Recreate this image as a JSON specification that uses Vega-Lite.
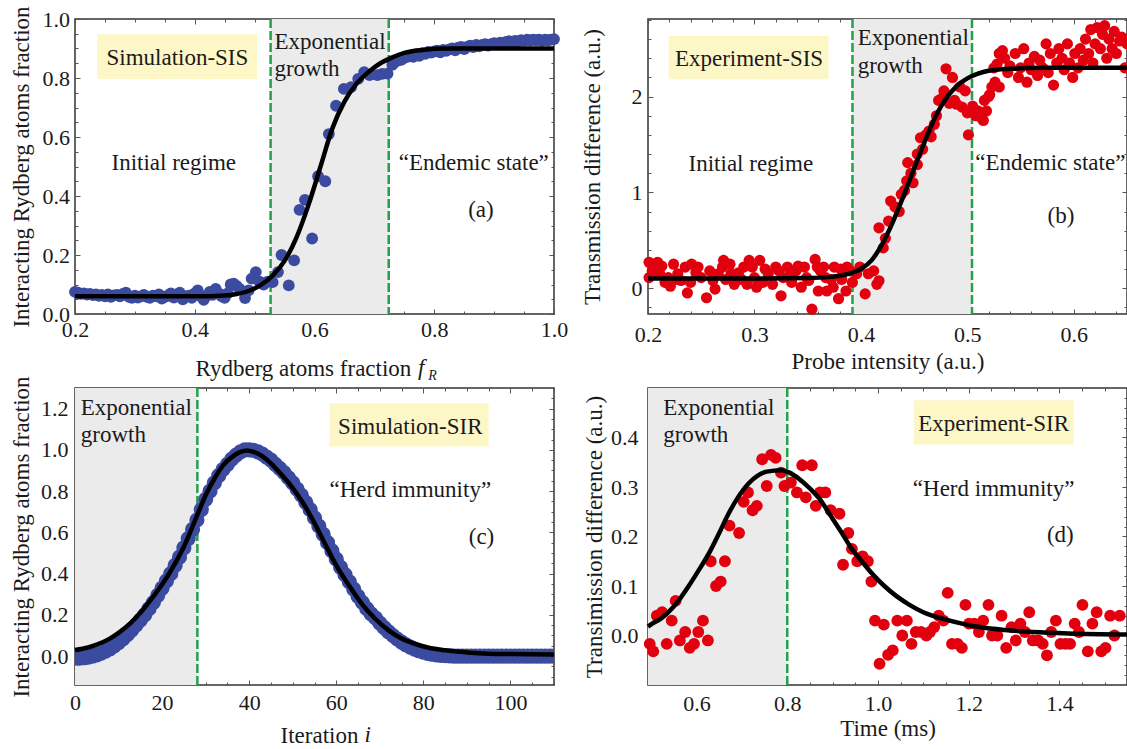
{
"$schema": "https://vega.github.io/schema/vega-lite/v6.json",
"padding": {"left": 9, "top": 5, "right": 0, "bottom": 0},
"background": "white",
"bounds": "flush",
"columns": 2,
"spacing": {"row": 74, "column": 94},
"config": {
  "view": {"stroke": "#333333", "strokeWidth": 1.5},
  "axis": {"domain": false, "grid": false, "tickColor": "#555555", "tickWidth": 1, "labelFont": "Liberation Serif", "labelFontSize": 22, "labelColor": "#1a1a1a", "titleFont": "Liberation Serif", "titleFontSize": 23, "titleFontWeight": "normal", "titleColor": "#1a1a1a", "labelFlush": false, "labelOverlap": false},
  "text": {"font": "Liberation Serif", "fontSize": 23, "color": "#1a1a1a"}
},
"concat": [
{
  "width": 479, "height": 295,
  "resolve": {"axis": {"x": "independent", "y": "independent"}},
  "layer": [
    {"data": {"values": [{"a": 0.5267, "b": 0.724}]}, "mark": {"type": "rect", "color": "#ebebeb"},
     "encoding": {"x": {"field": "a", "type": "quantitative", "scale": {"domain": [0.2, 1.0], "nice": false, "zero": false}, "axis": null}, "x2": {"field": "b"}}},
    {"data": {"values": [{"x": 0.5267}, {"x": 0.724}]}, "mark": {"type": "rule", "color": "#22a04b", "strokeWidth": 2.5, "strokeDash": [9, 3]},
     "encoding": {"x": {"field": "x", "type": "quantitative", "scale": {"domain": [0.2, 1.0], "nice": false, "zero": false}, "axis": null}}},
    {"data": {"values": [
      {"x":0.2,"y":0.075},{"x":0.205,"y":0.072},{"x":0.21,"y":0.068},{"x":0.215,"y":0.07},{"x":0.22,"y":0.066},{"x":0.225,"y":0.068},{"x":0.23,"y":0.064},{"x":0.235,"y":0.066},{"x":0.24,"y":0.062},{"x":0.245,"y":0.065},{"x":0.25,"y":0.06},{"x":0.255,"y":0.066},{"x":0.26,"y":0.058},{"x":0.265,"y":0.063},{"x":0.27,"y":0.065},{"x":0.275,"y":0.06},{"x":0.28,"y":0.068},{"x":0.285,"y":0.072},{"x":0.29,"y":0.058},{"x":0.295,"y":0.055},{"x":0.3,"y":0.062},{"x":0.305,"y":0.056},{"x":0.31,"y":0.06},{"x":0.315,"y":0.065},{"x":0.32,"y":0.058},{"x":0.325,"y":0.055},{"x":0.33,"y":0.062},{"x":0.335,"y":0.06},{"x":0.34,"y":0.066},{"x":0.345,"y":0.052},{"x":0.35,"y":0.058},{"x":0.355,"y":0.062},{"x":0.36,"y":0.07},{"x":0.365,"y":0.056},{"x":0.37,"y":0.066},{"x":0.375,"y":0.072},{"x":0.38,"y":0.05},{"x":0.385,"y":0.06},{"x":0.39,"y":0.062},{"x":0.395,"y":0.055},{"x":0.4,"y":0.07},{"x":0.405,"y":0.08},{"x":0.41,"y":0.06},{"x":0.415,"y":0.048},{"x":0.42,"y":0.062},{"x":0.425,"y":0.075},{"x":0.43,"y":0.065},{"x":0.435,"y":0.085},{"x":0.44,"y":0.07},{"x":0.445,"y":0.06},{"x":0.45,"y":0.055},{"x":0.455,"y":0.07},{"x":0.46,"y":0.1},{"x":0.465,"y":0.103},{"x":0.47,"y":0.095},{"x":0.475,"y":0.085},{"x":0.484,"y":0.054},{"x":0.49,"y":0.08},{"x":0.495,"y":0.12},{"x":0.502,"y":0.142},{"x":0.508,"y":0.11},{"x":0.515,"y":0.1},{"x":0.522,"y":0.11},{"x":0.53,"y":0.108},{"x":0.539,"y":0.142},{"x":0.545,"y":0.2},{"x":0.557,"y":0.097},{"x":0.566,"y":0.182},{"x":0.575,"y":0.353},{"x":0.584,"y":0.387},{"x":0.596,"y":0.256},{"x":0.606,"y":0.467},{"x":0.618,"y":0.45},{"x":0.624,"y":0.61},{"x":0.636,"y":0.706},{"x":0.649,"y":0.763},{"x":0.661,"y":0.769},{"x":0.673,"y":0.797},{"x":0.683,"y":0.82},{"x":0.692,"y":0.81},{"x":0.705,"y":0.81},{"x":0.713,"y":0.814},{"x":0.722,"y":0.815},{"x":0.73,"y":0.845},{"x":0.735,"y":0.855},{"x":0.74,"y":0.86},{"x":0.745,"y":0.862},{"x":0.75,"y":0.868},{"x":0.755,"y":0.872},{"x":0.76,"y":0.876},{"x":0.765,"y":0.872},{"x":0.77,"y":0.88},{"x":0.775,"y":0.875},{"x":0.78,"y":0.884},{"x":0.785,"y":0.882},{"x":0.79,"y":0.888},{"x":0.795,"y":0.886},{"x":0.8,"y":0.89},{"x":0.805,"y":0.893},{"x":0.81,"y":0.887},{"x":0.815,"y":0.895},{"x":0.82,"y":0.892},{"x":0.825,"y":0.897},{"x":0.83,"y":0.9},{"x":0.835,"y":0.894},{"x":0.84,"y":0.903},{"x":0.845,"y":0.905},{"x":0.85,"y":0.898},{"x":0.855,"y":0.905},{"x":0.86,"y":0.91},{"x":0.865,"y":0.905},{"x":0.87,"y":0.912},{"x":0.875,"y":0.907},{"x":0.88,"y":0.912},{"x":0.885,"y":0.915},{"x":0.89,"y":0.91},{"x":0.895,"y":0.915},{"x":0.9,"y":0.918},{"x":0.905,"y":0.914},{"x":0.91,"y":0.92},{"x":0.915,"y":0.917},{"x":0.92,"y":0.922},{"x":0.925,"y":0.925},{"x":0.93,"y":0.92},{"x":0.935,"y":0.926},{"x":0.94,"y":0.924},{"x":0.945,"y":0.928},{"x":0.95,"y":0.926},{"x":0.955,"y":0.93},{"x":0.96,"y":0.927},{"x":0.965,"y":0.93},{"x":0.97,"y":0.928},{"x":0.975,"y":0.93},{"x":0.98,"y":0.926},{"x":0.985,"y":0.93},{"x":0.99,"y":0.928},{"x":0.995,"y":0.93},{"x":1.0,"y":0.932}
    ]}, "mark": {"type": "circle", "color": "#3b4ba0", "opacity": 1, "size": 140},
     "encoding": {
       "x": {"field": "x", "type": "quantitative", "scale": {"domain": [0.2, 1.0], "nice": false, "zero": false},
             "axis": {"orient": "bottom", "values": [0.2, 0.4, 0.6, 0.8, 1.0], "format": ".1f", "tickSize": -5, "labelPadding": 10, "title": "Rydberg atoms fraction", "titleAlign": "left", "titleX": 120, "titleY": 61, "titleBaseline": "alphabetic"}},
       "y": {"field": "y", "type": "quantitative", "scale": {"domain": [0, 1], "nice": false, "zero": false},
             "axis": {"orient": "left", "values": [0, 0.2, 0.4, 0.6, 0.8, 1.0], "format": ".1f", "tickSize": -5, "labelPadding": 10.5, "title": "Interacting Rydberg atoms fraction", "titleX": -46.5, "titleBaseline": "alphabetic"}}}},
    {"data": {"values": [
      {"x":0.2,"y":0.06},{"x":0.4,"y":0.06},{"x":0.45,"y":0.063},{"x":0.47,"y":0.068},{"x":0.49,"y":0.078},{"x":0.51,"y":0.098},{"x":0.53,"y":0.13},{"x":0.55,"y":0.18},{"x":0.57,"y":0.26},{"x":0.59,"y":0.37},{"x":0.61,"y":0.5},{"x":0.63,"y":0.63},{"x":0.65,"y":0.72},{"x":0.67,"y":0.78},{"x":0.69,"y":0.82},{"x":0.71,"y":0.85},{"x":0.73,"y":0.87},{"x":0.75,"y":0.885},{"x":0.78,"y":0.895},{"x":0.82,"y":0.9},{"x":1.0,"y":0.9}
    ]}, "mark": {"type": "line", "color": "#000000", "strokeWidth": 4.5, "interpolate": "monotone"},
     "encoding": {
       "x": {"field": "x", "type": "quantitative", "scale": {"domain": [0.2, 1.0], "nice": false, "zero": false},
             "axis": {"orient": "top", "values": [0.2, 0.4, 0.6, 0.8, 1.0], "labels": false, "tickSize": -5, "title": null}},
       "y": {"field": "y", "type": "quantitative", "scale": {"domain": [0, 1], "nice": false, "zero": false},
             "axis": {"orient": "right", "values": [0, 0.2, 0.4, 0.6, 0.8, 1.0], "labels": false, "tickSize": -5, "title": null}}}},
    {"data": {"values": [{"x": 0.237, "x2": 0.504, "y": 0.797, "y2": 0.948}]}, "mark": {"type": "rect", "color": "#fdf7c8"},
     "encoding": {
       "x": {"field": "x", "type": "quantitative", "scale": {"domain": [0.2, 1.0], "nice": false, "zero": false},
             "axis": {"orient": "top", "values": [0.25,0.3,0.35,0.45,0.5,0.55,0.65,0.7,0.75,0.85,0.9,0.95], "labels": false, "tickSize": -3, "title": null}},
       "x2": {"field": "x2"},
       "y": {"field": "y", "type": "quantitative", "scale": {"domain": [0, 1], "nice": false, "zero": false},
             "axis": {"orient": "right", "values": [0.05,0.1,0.15,0.25,0.3,0.35,0.45,0.5,0.55,0.65,0.7,0.75,0.85,0.9,0.95], "labels": false, "tickSize": -3, "title": null}},
       "y2": {"field": "y2"}}},
    {"data": {"values": [{"x":0.371,"y":0.868,"t":"Simulation-SIS"},{"x":0.365,"y":0.5125,"t":"Initial regime"},{"x":0.866,"y":0.5125,"t":"“Endemic state”"},{"x":0.878,"y":0.351,"t":"(a)"}]},
     "mark": {"type": "text", "align": "center", "baseline": "middle"},
     "encoding": {
       "x": {"field": "x", "type": "quantitative", "scale": {"domain": [0.2, 1.0], "nice": false, "zero": false},
             "axis": {"orient": "bottom", "values": [0.25,0.3,0.35,0.45,0.5,0.55,0.65,0.7,0.75,0.85,0.9,0.95], "labels": false, "tickSize": -3, "title": null}},
       "y": {"field": "y", "type": "quantitative", "scale": {"domain": [0, 1], "nice": false, "zero": false},
             "axis": {"orient": "left", "values": [0.05,0.1,0.15,0.25,0.3,0.35,0.45,0.5,0.55,0.65,0.7,0.75,0.85,0.9,0.95], "labels": false, "tickSize": -3, "title": null}},
       "text": {"field": "t"}}},
    {"data": {"values": [{"x":0.533,"y":0.922,"t":"Exponential"},{"x":0.533,"y":0.829,"t":"growth"}]},
     "mark": {"type": "text", "align": "left", "baseline": "middle"},
     "encoding": {
       "x": {"field": "x", "type": "quantitative", "scale": {"domain": [0.2, 1.0], "nice": false, "zero": false}, "axis": null},
       "y": {"field": "y", "type": "quantitative", "scale": {"domain": [0, 1], "nice": false, "zero": false}, "axis": null},
       "text": {"field": "t"}}},
    {"data": {"values": [{"x":0.778,"y":-0.206,"t":"f"}]},
     "mark": {"type": "text", "align": "center", "baseline": "alphabetic", "fontStyle": "italic", "fontSize": 23},
     "encoding": {
       "x": {"field": "x", "type": "quantitative", "scale": {"domain": [0.2, 1.0], "nice": false, "zero": false}, "axis": null},
       "y": {"field": "y", "type": "quantitative", "scale": {"domain": [0, 1], "nice": false, "zero": false}, "axis": null},
       "text": {"field": "t"}}},
    {"data": {"values": [{"x":0.797,"y":-0.223,"t":"R"}]},
     "mark": {"type": "text", "align": "center", "baseline": "alphabetic", "fontStyle": "italic", "fontSize": 14},
     "encoding": {
       "x": {"field": "x", "type": "quantitative", "scale": {"domain": [0.2, 1.0], "nice": false, "zero": false}, "axis": null},
       "y": {"field": "y", "type": "quantitative", "scale": {"domain": [0, 1], "nice": false, "zero": false}, "axis": null},
       "text": {"field": "t"}}}
  ]
},
{
  "width": 479, "height": 295,
  "resolve": {"axis": {"x": "independent", "y": "independent"}},
  "layer": [
    {"data": {"values": [{"a": 0.3921, "b": 0.5044}]}, "mark": {"type": "rect", "color": "#ebebeb"},
     "encoding": {"x": {"field": "a", "type": "quantitative", "scale": {"domain": [0.2, 0.65], "nice": false, "zero": false}, "axis": null}, "x2": {"field": "b"}}},
    {"data": {"values": [{"x": 0.3921}, {"x": 0.5044}]}, "mark": {"type": "rule", "color": "#22a04b", "strokeWidth": 2.5, "strokeDash": [9, 3]},
     "encoding": {"x": {"field": "x", "type": "quantitative", "scale": {"domain": [0.2, 0.65], "nice": false, "zero": false}, "axis": null}}},
    {"data": {"values": [
      {"x":0.201,"y":0.27},{"x":0.201,"y":0.11},{"x":0.204,"y":0.18},{"x":0.206,"y":0.22},{"x":0.209,"y":0.27},{"x":0.211,"y":0.15},{"x":0.213,"y":0.23},{"x":0.216,"y":0.06},{"x":0.219,"y":0.11},{"x":0.221,"y":0.02},{"x":0.224,"y":0.25},{"x":0.226,"y":0.09},{"x":0.228,"y":0.15},{"x":0.231,"y":0.08},{"x":0.235,"y":0.22},{"x":0.237,"y":-0.05},{"x":0.24,"y":0.06},{"x":0.241,"y":0.25},{"x":0.245,"y":0.16},{"x":0.247,"y":0.22},{"x":0.25,"y":0.11},{"x":0.255,"y":-0.1},{"x":0.258,"y":0.18},{"x":0.261,"y":0.08},{"x":0.263,"y":-0.01},{"x":0.266,"y":0.15},{"x":0.27,"y":0.22},{"x":0.271,"y":0.29},{"x":0.273,"y":0.09},{"x":0.277,"y":0.25},{"x":0.278,"y":0.15},{"x":0.281,"y":0.04},{"x":0.285,"y":0.16},{"x":0.288,"y":0.09},{"x":0.29,"y":0.22},{"x":0.293,"y":0.04},{"x":0.295,"y":0.29},{"x":0.298,"y":0.22},{"x":0.3,"y":0.11},{"x":0.302,"y":0.01},{"x":0.305,"y":0.29},{"x":0.308,"y":0.06},{"x":0.31,"y":0.2},{"x":0.313,"y":0.15},{"x":0.317,"y":0.04},{"x":0.32,"y":0.22},{"x":0.323,"y":0.18},{"x":0.325,"y":-0.08},{"x":0.327,"y":0.11},{"x":0.331,"y":0.22},{"x":0.334,"y":0.15},{"x":0.335,"y":0.06},{"x":0.339,"y":0.18},{"x":0.341,"y":0.23},{"x":0.344,"y":0.01},{"x":0.347,"y":0.22},{"x":0.349,"y":0.11},{"x":0.351,"y":0.08},{"x":0.354,"y":-0.22},{"x":0.357,"y":0.3},{"x":0.359,"y":0.22},{"x":0.36,"y":-0.03},{"x":0.362,"y":0.18},{"x":0.365,"y":0.22},{"x":0.367,"y":0.11},{"x":0.368,"y":-0.03},{"x":0.372,"y":0.09},{"x":0.374,"y":0.01},{"x":0.375,"y":0.22},{"x":0.379,"y":-0.11},{"x":0.381,"y":0.2},{"x":0.382,"y":0.09},{"x":0.386,"y":-0.03},{"x":0.387,"y":0.22},{"x":0.39,"y":0.18},{"x":0.392,"y":0.06},{"x":0.396,"y":0.15},{"x":0.399,"y":0.22},{"x":0.404,"y":-0.06},{"x":0.407,"y":0.15},{"x":0.412,"y":0.18},{"x":0.415,"y":0.04},{"x":0.417,"y":0.077},
      {"x":0.421,"y":0.42},{"x":0.423,"y":0.52},{"x":0.417,"y":0.63},{"x":0.426,"y":0.7},{"x":0.428,"y":0.91},{"x":0.432,"y":0.85},{"x":0.436,"y":0.8},{"x":0.438,"y":0.98},{"x":0.441,"y":1.02},{"x":0.443,"y":1.12},{"x":0.447,"y":1.2},{"x":0.449,"y":1.1},{"x":0.444,"y":1.31},{"x":0.453,"y":1.29},{"x":0.453,"y":1.4},{"x":0.456,"y":1.57},{"x":0.458,"y":1.45},{"x":0.461,"y":1.6},{"x":0.464,"y":1.64},{"x":0.466,"y":1.58},{"x":0.469,"y":1.71},{"x":0.471,"y":1.8},{"x":0.473,"y":1.96},{"x":0.476,"y":1.98},{"x":0.478,"y":2.06},{"x":0.48,"y":2.29},{"x":0.483,"y":1.93},{"x":0.486,"y":2.2},{"x":0.488,"y":1.96},{"x":0.49,"y":1.92},{"x":0.493,"y":2.1},{"x":0.495,"y":1.89},{"x":0.498,"y":2.06},{"x":0.5,"y":1.83},{"x":0.501,"y":1.6},
      {"x":0.505,"y":1.9},{"x":0.508,"y":1.8},{"x":0.51,"y":1.85},{"x":0.513,"y":1.78},{"x":0.515,"y":1.75},{"x":0.516,"y":1.96},{"x":0.518,"y":1.85},{"x":0.52,"y":2.0},{"x":0.521,"y":2.02},{"x":0.523,"y":2.1},{"x":0.525,"y":2.3},{"x":0.526,"y":2.15},{"x":0.528,"y":2.34},{"x":0.53,"y":2.45},{"x":0.533,"y":2.48},
      {"x":0.53,"y":2.1},{"x":0.535,"y":2.4},{"x":0.538,"y":2.25},{"x":0.54,"y":2.32},{"x":0.545,"y":2.45},{"x":0.548,"y":2.2},{"x":0.55,"y":2.3},{"x":0.553,"y":2.5},{"x":0.556,"y":2.15},{"x":0.558,"y":2.35},{"x":0.56,"y":2.28},{"x":0.563,"y":2.42},{"x":0.566,"y":2.22},{"x":0.568,"y":2.38},{"x":0.571,"y":2.3},{"x":0.574,"y":2.55},{"x":0.576,"y":2.25},{"x":0.578,"y":2.45},{"x":0.581,"y":2.12},{"x":0.584,"y":2.35},{"x":0.586,"y":2.5},{"x":0.589,"y":2.4},{"x":0.591,"y":2.28},{"x":0.594,"y":2.55},{"x":0.596,"y":2.35},{"x":0.599,"y":2.2},{"x":0.601,"y":2.45},{"x":0.604,"y":2.3},{"x":0.606,"y":2.5},{"x":0.609,"y":2.38},{"x":0.611,"y":2.6},{"x":0.614,"y":2.45},{"x":0.616,"y":2.7},{"x":0.618,"y":2.35},{"x":0.62,"y":2.55},{"x":0.622,"y":2.72},{"x":0.625,"y":2.5},{"x":0.627,"y":2.65},{"x":0.629,"y":2.74},{"x":0.631,"y":2.4},{"x":0.633,"y":2.6},{"x":0.636,"y":2.5},{"x":0.638,"y":2.68},{"x":0.64,"y":2.45},{"x":0.643,"y":2.58},{"x":0.645,"y":2.62},{"x":0.648,"y":2.3},{"x":0.65,"y":2.55}
    ]}, "mark": {"type": "circle", "color": "#e2000f", "opacity": 1, "size": 125},
     "encoding": {
       "x": {"field": "x", "type": "quantitative", "scale": {"domain": [0.2, 0.65], "nice": false, "zero": false},
             "axis": {"orient": "bottom", "values": [0.2, 0.3, 0.4, 0.5, 0.6], "format": ".1f", "tickSize": -5, "labelPadding": 15, "title": "Probe intensity (a.u.)", "titleY": 54.5, "titleBaseline": "alphabetic"}},
       "y": {"field": "y", "type": "quantitative", "scale": {"domain": [-0.27, 2.81], "nice": false, "zero": false},
             "axis": {"orient": "left", "values": [0, 1, 2], "format": "d", "tickSize": -5, "labelPadding": 11, "title": "Transmission difference (a.u.)", "titleX": -48.5, "titleBaseline": "alphabetic"}}}},
    {"data": {"values": [
      {"x":0.2,"y":0.1},{"x":0.3,"y":0.1},{"x":0.35,"y":0.105},{"x":0.37,"y":0.115},{"x":0.38,"y":0.13},{"x":0.39,"y":0.155},{"x":0.4,"y":0.2},{"x":0.41,"y":0.29},{"x":0.42,"y":0.46},{"x":0.43,"y":0.69},{"x":0.44,"y":0.96},{"x":0.45,"y":1.25},{"x":0.46,"y":1.53},{"x":0.47,"y":1.79},{"x":0.48,"y":1.98},{"x":0.49,"y":2.11},{"x":0.5,"y":2.19},{"x":0.51,"y":2.24},{"x":0.52,"y":2.27},{"x":0.54,"y":2.29},{"x":0.57,"y":2.3},{"x":0.65,"y":2.3}
    ]}, "mark": {"type": "line", "color": "#000000", "strokeWidth": 4.5, "interpolate": "monotone"},
     "encoding": {
       "x": {"field": "x", "type": "quantitative", "scale": {"domain": [0.2, 0.65], "nice": false, "zero": false},
             "axis": {"orient": "top", "values": [0.2, 0.3, 0.4, 0.5, 0.6], "labels": false, "tickSize": -5, "title": null}},
       "y": {"field": "y", "type": "quantitative", "scale": {"domain": [-0.27, 2.81], "nice": false, "zero": false},
             "axis": {"orient": "right", "values": [0, 1, 2], "labels": false, "tickSize": -5, "title": null}}}},
    {"data": {"values": [{"x": 0.2194, "x2": 0.3697, "y": 2.181, "y2": 2.633}]}, "mark": {"type": "rect", "color": "#fdf7c8"},
     "encoding": {
       "x": {"field": "x", "type": "quantitative", "scale": {"domain": [0.2, 0.65], "nice": false, "zero": false},
             "axis": {"orient": "top", "values": [0.22,0.24,0.26,0.28,0.32,0.34,0.36,0.38,0.42,0.44,0.46,0.48,0.52,0.54,0.56,0.58,0.62,0.64], "labels": false, "tickSize": -3, "title": null}},
       "x2": {"field": "x2"},
       "y": {"field": "y", "type": "quantitative", "scale": {"domain": [-0.27, 2.81], "nice": false, "zero": false},
             "axis": {"orient": "right", "values": [-0.2,0.2,0.4,0.6,0.8,1.2,1.4,1.6,1.8,2.2,2.4,2.6,2.8], "labels": false, "tickSize": -3, "title": null}},
       "y2": {"field": "y2"}}},
    {"data": {"values": [{"x":0.2949,"y":2.39,"t":"Experiment-SIS"},{"x":0.2966,"y":1.294,"t":"Initial regime"},{"x":0.578,"y":1.311,"t":"“Endemic state”"},{"x":0.588,"y":0.755,"t":"(b)"}]},
     "mark": {"type": "text", "align": "center", "baseline": "middle"},
     "encoding": {
       "x": {"field": "x", "type": "quantitative", "scale": {"domain": [0.2, 0.65], "nice": false, "zero": false},
             "axis": {"orient": "bottom", "values": [0.22,0.24,0.26,0.28,0.32,0.34,0.36,0.38,0.42,0.44,0.46,0.48,0.52,0.54,0.56,0.58,0.62,0.64], "labels": false, "tickSize": -3, "title": null}},
       "y": {"field": "y", "type": "quantitative", "scale": {"domain": [-0.27, 2.81], "nice": false, "zero": false},
             "axis": {"orient": "left", "values": [-0.2,0.2,0.4,0.6,0.8,1.2,1.4,1.6,1.8,2.2,2.4,2.6,2.8], "labels": false, "tickSize": -3, "title": null}},
       "text": {"field": "t"}}},
    {"data": {"values": [{"x":0.397,"y":2.609,"t":"Exponential"},{"x":0.397,"y":2.32,"t":"growth"}]},
     "mark": {"type": "text", "align": "left", "baseline": "middle"},
     "encoding": {
       "x": {"field": "x", "type": "quantitative", "scale": {"domain": [0.2, 0.65], "nice": false, "zero": false}, "axis": null},
       "y": {"field": "y", "type": "quantitative", "scale": {"domain": [-0.27, 2.81], "nice": false, "zero": false}, "axis": null},
       "text": {"field": "t"}}}
  ]
},
{
  "width": 479, "height": 297,
  "resolve": {"axis": {"x": "independent", "y": "independent"}},
  "layer": [
    {"data": {"values": [{"a": 0, "b": 28.1}]}, "mark": {"type": "rect", "color": "#ebebeb"},
     "encoding": {"x": {"field": "a", "type": "quantitative", "scale": {"domain": [0, 110], "nice": false, "zero": false}, "axis": null}, "x2": {"field": "b"}}},
    {"data": {"values": [{"x": 28.1}]}, "mark": {"type": "rule", "color": "#22a04b", "strokeWidth": 2.5, "strokeDash": [9, 3]},
     "encoding": {"x": {"field": "x", "type": "quantitative", "scale": {"domain": [0, 110], "nice": false, "zero": false}, "axis": null}}},
    {"data": {"values": [
      {"x":0,"y":-0.01},{"x":1,"y":-0.01},{"x":2,"y":-0.008},{"x":3,"y":-0.005},{"x":4,"y":0.0},{"x":5,"y":0.006},{"x":6,"y":0.014},{"x":7,"y":0.024},{"x":8,"y":0.035},{"x":9,"y":0.05},{"x":10,"y":0.066},{"x":11,"y":0.084},{"x":12,"y":0.104},{"x":13,"y":0.126},{"x":14,"y":0.15},{"x":15,"y":0.175},{"x":16,"y":0.2},{"x":17,"y":0.23},{"x":18,"y":0.26},{"x":19,"y":0.295},{"x":20,"y":0.33},{"x":21,"y":0.365},{"x":22,"y":0.4},{"x":23,"y":0.44},{"x":24,"y":0.48},{"x":25,"y":0.525},{"x":26,"y":0.57},{"x":27,"y":0.615},{"x":28,"y":0.66},{"x":29,"y":0.71},{"x":30,"y":0.76},{"x":31,"y":0.8},{"x":32,"y":0.84},{"x":33,"y":0.875},{"x":34,"y":0.905},{"x":35,"y":0.93},{"x":36,"y":0.955},{"x":37,"y":0.975},{"x":38,"y":0.99},{"x":39,"y":1.0},{"x":40,"y":1.0},{"x":41,"y":0.998},{"x":42,"y":0.99},{"x":43,"y":0.98},{"x":44,"y":0.965},{"x":45,"y":0.95},{"x":46,"y":0.93},{"x":47,"y":0.91},{"x":48,"y":0.89},{"x":49,"y":0.865},{"x":50,"y":0.84},{"x":51,"y":0.81},{"x":52,"y":0.78},{"x":53,"y":0.745},{"x":54,"y":0.71},{"x":55,"y":0.67},{"x":56,"y":0.63},{"x":57,"y":0.59},{"x":58,"y":0.55},{"x":59,"y":0.51},{"x":60,"y":0.47},{"x":61,"y":0.43},{"x":62,"y":0.395},{"x":63,"y":0.36},{"x":64,"y":0.325},{"x":65,"y":0.29},{"x":66,"y":0.26},{"x":67,"y":0.23},{"x":68,"y":0.205},{"x":69,"y":0.185},{"x":70,"y":0.16},{"x":71,"y":0.138},{"x":72,"y":0.118},{"x":73,"y":0.1},{"x":74,"y":0.083},{"x":75,"y":0.068},{"x":76,"y":0.055},{"x":77,"y":0.044},{"x":78,"y":0.034},{"x":79,"y":0.026},{"x":80,"y":0.019},{"x":81,"y":0.013},{"x":82,"y":0.009},{"x":83,"y":0.006},{"x":84,"y":0.004},{"x":85,"y":0.002},{"x":86,"y":0.001},{"x":87,"y":0.0},{"x":88,"y":0.0},{"x":89,"y":0.0},{"x":90,"y":0.0},{"x":91,"y":0.0},{"x":92,"y":0.0},{"x":93,"y":0.0},{"x":94,"y":0.0},{"x":95,"y":0.0},{"x":96,"y":0.0},{"x":97,"y":0.0},{"x":98,"y":0.0},{"x":99,"y":0.0},{"x":100,"y":0.0},{"x":101,"y":0.0},{"x":102,"y":0.0},{"x":103,"y":0.0},{"x":104,"y":0.0},{"x":105,"y":0.0},{"x":106,"y":0.0},{"x":107,"y":0.0},{"x":108,"y":0.0},{"x":109,"y":0.0},{"x":110,"y":0.0}
    ]}, "mark": {"type": "circle", "color": "#3b4ba0", "opacity": 1, "size": 230, "clip": true},
     "encoding": {
       "x": {"field": "x", "type": "quantitative", "scale": {"domain": [0, 110], "nice": false, "zero": false},
             "axis": {"orient": "bottom", "values": [0, 20, 40, 60, 80, 100], "format": "d", "tickSize": -5, "labelPadding": 12, "title": "Iteration", "titleAlign": "left", "titleX": 205, "titleY": 57.3, "titleBaseline": "alphabetic"}},
       "y": {"field": "y", "type": "quantitative", "scale": {"domain": [-0.14, 1.3], "nice": false, "zero": false},
             "axis": {"orient": "left", "values": [0, 0.2, 0.4, 0.6, 0.8, 1.0, 1.2], "format": ".1f", "tickSize": -5, "labelPadding": 12, "title": "Interacting Rydberg atoms fraction", "titleX": -47, "titleBaseline": "alphabetic"}}}},
    {"data": {"values": [
      {"x":0,"y":0.03},{"x":3,"y":0.042},{"x":5,"y":0.056},{"x":8,"y":0.085},{"x":10,"y":0.113},{"x":13,"y":0.165},{"x":15,"y":0.21},{"x":18,"y":0.29},{"x":20,"y":0.347},{"x":23,"y":0.45},{"x":25,"y":0.53},{"x":28,"y":0.68},{"x":30,"y":0.78},{"x":32,"y":0.86},{"x":34,"y":0.925},{"x":36,"y":0.965},{"x":38,"y":0.99},{"x":39.5,"y":0.997},{"x":41,"y":0.99},{"x":43,"y":0.97},{"x":45,"y":0.935},{"x":47,"y":0.89},{"x":50,"y":0.815},{"x":52,"y":0.755},{"x":55,"y":0.645},{"x":58,"y":0.52},{"x":60,"y":0.44},{"x":63,"y":0.34},{"x":66,"y":0.25},{"x":69,"y":0.18},{"x":72,"y":0.125},{"x":75,"y":0.085},{"x":78,"y":0.06},{"x":81,"y":0.042},{"x":85,"y":0.028},{"x":90,"y":0.018},{"x":95,"y":0.012},{"x":100,"y":0.01},{"x":110,"y":0.008}
    ]}, "mark": {"type": "line", "color": "#000000", "strokeWidth": 4.5, "interpolate": "monotone"},
     "encoding": {
       "x": {"field": "x", "type": "quantitative", "scale": {"domain": [0, 110], "nice": false, "zero": false},
             "axis": {"orient": "top", "values": [0, 20, 40, 60, 80, 100], "labels": false, "tickSize": -5, "title": null}},
       "y": {"field": "y", "type": "quantitative", "scale": {"domain": [-0.14, 1.3], "nice": false, "zero": false},
             "axis": {"orient": "right", "values": [0, 0.2, 0.4, 0.6, 0.8, 1.0, 1.2], "labels": false, "tickSize": -5, "title": null}}}},
    {"data": {"values": [{"x": 58.4, "x2": 95.0, "y": 1.016, "y2": 1.226}]}, "mark": {"type": "rect", "color": "#fdf7c8"},
     "encoding": {
       "x": {"field": "x", "type": "quantitative", "scale": {"domain": [0, 110], "nice": false, "zero": false},
             "axis": {"orient": "top", "values": [5,10,15,25,30,35,45,50,55,65,70,75,85,90,95,105,110], "labels": false, "tickSize": -3, "title": null}},
       "x2": {"field": "x2"},
       "y": {"field": "y", "type": "quantitative", "scale": {"domain": [-0.14, 1.3], "nice": false, "zero": false},
             "axis": {"orient": "right", "values": [-0.1,-0.05,0.05,0.1,0.15,0.25,0.3,0.35,0.45,0.5,0.55,0.65,0.7,0.75,0.85,0.9,0.95,1.05,1.1,1.15,1.25], "labels": false, "tickSize": -3, "title": null}},
       "y2": {"field": "y2"}}},
    {"data": {"values": [{"x":77,"y":1.113,"t":"Simulation-SIR"},{"x":77,"y":0.806,"t":"“Herd immunity”"},{"x":93.35,"y":0.58,"t":"(c)"}]},
     "mark": {"type": "text", "align": "center", "baseline": "middle"},
     "encoding": {
       "x": {"field": "x", "type": "quantitative", "scale": {"domain": [0, 110], "nice": false, "zero": false},
             "axis": {"orient": "bottom", "values": [5,10,15,25,30,35,45,50,55,65,70,75,85,90,95,105,110], "labels": false, "tickSize": -3, "title": null}},
       "y": {"field": "y", "type": "quantitative", "scale": {"domain": [-0.14, 1.3], "nice": false, "zero": false},
             "axis": {"orient": "left", "values": [-0.1,-0.05,0.05,0.1,0.15,0.25,0.3,0.35,0.45,0.5,0.55,0.65,0.7,0.75,0.85,0.9,0.95,1.05,1.1,1.15,1.25], "labels": false, "tickSize": -3, "title": null}},
       "text": {"field": "t"}}},
    {"data": {"values": [{"x":1.33,"y":1.2016,"t":"Exponential"},{"x":1.33,"y":1.0726,"t":"growth"}]},
     "mark": {"type": "text", "align": "left", "baseline": "middle"},
     "encoding": {
       "x": {"field": "x", "type": "quantitative", "scale": {"domain": [0, 110], "nice": false, "zero": false}, "axis": null},
       "y": {"field": "y", "type": "quantitative", "scale": {"domain": [-0.14, 1.3], "nice": false, "zero": false}, "axis": null},
       "text": {"field": "t"}}},
    {"data": {"values": [{"x":67.2,"y":-0.418,"t":"i"}]},
     "mark": {"type": "text", "align": "center", "baseline": "alphabetic", "fontStyle": "italic", "fontSize": 23},
     "encoding": {
       "x": {"field": "x", "type": "quantitative", "scale": {"domain": [0, 110], "nice": false, "zero": false}, "axis": null},
       "y": {"field": "y", "type": "quantitative", "scale": {"domain": [-0.14, 1.3], "nice": false, "zero": false}, "axis": null},
       "text": {"field": "t"}}}
  ]
},
{
  "width": 479, "height": 297,
  "resolve": {"axis": {"x": "independent", "y": "independent"}},
  "layer": [
    {"data": {"values": [{"a": 0.493, "b": 0.8}]}, "mark": {"type": "rect", "color": "#ebebeb"},
     "encoding": {"x": {"field": "a", "type": "quantitative", "scale": {"domain": [0.493, 1.549], "nice": false, "zero": false}, "axis": null}, "x2": {"field": "b"}}},
    {"data": {"values": [{"x": 0.8}]}, "mark": {"type": "rule", "color": "#22a04b", "strokeWidth": 2.5, "strokeDash": [9, 3]},
     "encoding": {"x": {"field": "x", "type": "quantitative", "scale": {"domain": [0.493, 1.549], "nice": false, "zero": false}, "axis": null}}},
    {"data": {"values": [
      {"x":0.4968,"y":-0.017},{"x":0.5046,"y":-0.032},{"x":0.5124,"y":0.04},{"x":0.5241,"y":0.047},{"x":0.5343,"y":-0.017},{"x":0.5453,"y":0.03},{"x":0.5539,"y":0.07},{"x":0.5632,"y":-0.01},{"x":0.575,"y":0.007},{"x":0.5851,"y":-0.025},{"x":0.5945,"y":-0.017},{"x":0.6039,"y":0.007},{"x":0.6141,"y":0.03},{"x":0.625,"y":-0.01},{"x":0.6313,"y":0.15},{"x":0.643,"y":0.1},{"x":0.6532,"y":0.109},{"x":0.6626,"y":0.15},{"x":0.6727,"y":0.222},{"x":0.6938,"y":0.207},{"x":0.704,"y":0.27},{"x":0.7134,"y":0.289},{"x":0.7236,"y":0.253},{"x":0.7329,"y":0.262},{"x":0.7447,"y":0.356},{"x":0.7548,"y":0.302},{"x":0.7642,"y":0.365},{"x":0.7744,"y":0.359},{"x":0.7861,"y":0.329},{"x":0.7939,"y":0.302},{"x":0.808,"y":0.309},{"x":0.8213,"y":0.289},{"x":0.833,"y":0.344},{"x":0.8409,"y":0.279},{"x":0.8542,"y":0.344},{"x":0.8628,"y":0.262},{"x":0.8721,"y":0.289},{"x":0.8839,"y":0.289},{"x":0.8956,"y":0.253},{"x":0.9152,"y":0.246},{"x":0.923,"y":0.143},{"x":0.9347,"y":0.207},{"x":0.9425,"y":0.175},{"x":0.9543,"y":0.15},{"x":0.966,"y":0.16},{"x":0.9777,"y":0.15},{"x":0.9855,"y":0.109},{"x":0.9934,"y":0.03},{"x":1.0035,"y":-0.057},{"x":1.0129,"y":0.022},{"x":1.0223,"y":-0.039},{"x":1.0325,"y":-0.03},{"x":1.0426,"y":0.03},{"x":1.0536,"y":0.0},{"x":1.0637,"y":0.03},{"x":1.0739,"y":-0.017},{"x":1.0833,"y":0.007},{"x":1.095,"y":0.007},{"x":1.1067,"y":0.0},{"x":1.1146,"y":0.007},{"x":1.124,"y":0.017},{"x":1.1341,"y":0.04},{"x":1.1443,"y":0.03},{"x":1.1537,"y":0.086},{"x":1.1631,"y":-0.017},{"x":1.1756,"y":-0.017},{"x":1.1849,"y":-0.025},{"x":1.1928,"y":0.062},{"x":1.2006,"y":0.024},{"x":1.2123,"y":0.024},{"x":1.2225,"y":0.007},{"x":1.2319,"y":0.03},{"x":1.2436,"y":0.062},{"x":1.2514,"y":0.0},{"x":1.2631,"y":0.0},{"x":1.2725,"y":0.04},{"x":1.2827,"y":-0.025},{"x":1.2944,"y":0.017},{"x":1.3038,"y":-0.01},{"x":1.314,"y":0.024},{"x":1.3241,"y":0.007},{"x":1.3335,"y":0.047},{"x":1.3413,"y":-0.01},{"x":1.3531,"y":-0.01},{"x":1.3632,"y":-0.017},{"x":1.3726,"y":-0.04},{"x":1.382,"y":0.007},{"x":1.3922,"y":0.03},{"x":1.4023,"y":-0.017},{"x":1.4133,"y":-0.017},{"x":1.4235,"y":-0.017},{"x":1.4336,"y":0.024},{"x":1.443,"y":0.007},{"x":1.4508,"y":0.062},{"x":1.4626,"y":-0.032},{"x":1.4727,"y":0.024},{"x":1.4821,"y":0.047},{"x":1.4923,"y":-0.032},{"x":1.5017,"y":-0.025},{"x":1.5118,"y":0.04},{"x":1.5212,"y":0.0},{"x":1.533,"y":0.04}
    ]}, "mark": {"type": "circle", "color": "#e2000f", "opacity": 1, "size": 140},
     "encoding": {
       "x": {"field": "x", "type": "quantitative", "scale": {"domain": [0.493, 1.549], "nice": false, "zero": false},
             "axis": {"orient": "bottom", "values": [0.6, 0.8, 1.0, 1.2, 1.4], "format": ".1f", "tickSize": -5, "labelPadding": 13.7, "title": "Time (ms)", "titleY": 50, "titleBaseline": "alphabetic"}},
       "y": {"field": "y", "type": "quantitative", "scale": {"domain": [-0.1, 0.5], "nice": false, "zero": false},
             "axis": {"orient": "left", "values": [0, 0.1, 0.2, 0.3, 0.4], "format": ".1f", "tickSize": -5, "labelPadding": 15, "title": "Transimission difference (a.u.)", "titleX": -46.5, "titleBaseline": "alphabetic"}}}},
    {"data": {"values": [
      {"x":0.493,"y":0.018},{"x":0.5007,"y":0.023},{"x":0.52,"y":0.033},{"x":0.5359,"y":0.045},{"x":0.56,"y":0.07},{"x":0.5828,"y":0.1},{"x":0.605,"y":0.132},{"x":0.6297,"y":0.17},{"x":0.65,"y":0.207},{"x":0.6688,"y":0.243},{"x":0.69,"y":0.277},{"x":0.7157,"y":0.308},{"x":0.735,"y":0.323},{"x":0.7548,"y":0.331},{"x":0.7877,"y":0.334},{"x":0.805,"y":0.329},{"x":0.8252,"y":0.317},{"x":0.85,"y":0.297},{"x":0.8721,"y":0.275},{"x":0.895,"y":0.243},{"x":0.9191,"y":0.209},{"x":0.94,"y":0.178},{"x":0.966,"y":0.148},{"x":0.99,"y":0.122},{"x":1.0129,"y":0.101},{"x":1.04,"y":0.08},{"x":1.0677,"y":0.063},{"x":1.1,"y":0.047},{"x":1.1459,"y":0.033},{"x":1.19,"y":0.023},{"x":1.2241,"y":0.017},{"x":1.28,"y":0.011},{"x":1.3413,"y":0.007},{"x":1.42,"y":0.004},{"x":1.549,"y":0.002}
    ]}, "mark": {"type": "line", "color": "#000000", "strokeWidth": 4.5, "interpolate": "monotone"},
     "encoding": {
       "x": {"field": "x", "type": "quantitative", "scale": {"domain": [0.493, 1.549], "nice": false, "zero": false},
             "axis": {"orient": "top", "values": [0.6, 0.8, 1.0, 1.2, 1.4], "labels": false, "tickSize": -5, "title": null}},
       "y": {"field": "y", "type": "quantitative", "scale": {"domain": [-0.1, 0.5], "nice": false, "zero": false},
             "axis": {"orient": "right", "values": [0, 0.1, 0.2, 0.3, 0.4], "labels": false, "tickSize": -5, "title": null}}}},
    {"data": {"values": [{"x": 1.079, "x2": 1.431, "y": 0.3857, "y2": 0.4754}]}, "mark": {"type": "rect", "color": "#fdf7c8"},
     "encoding": {
       "x": {"field": "x", "type": "quantitative", "scale": {"domain": [0.493, 1.549], "nice": false, "zero": false},
             "axis": {"orient": "top", "values": [0.5,0.55,0.65,0.7,0.75,0.85,0.9,0.95,1.05,1.1,1.15,1.25,1.3,1.35,1.45,1.5], "labels": false, "tickSize": -3, "title": null}},
       "x2": {"field": "x2"},
       "y": {"field": "y", "type": "quantitative", "scale": {"domain": [-0.1, 0.5], "nice": false, "zero": false},
             "axis": {"orient": "right", "values": [-0.08,-0.06,-0.04,-0.02,0.02,0.04,0.06,0.08,0.12,0.14,0.16,0.18,0.22,0.24,0.26,0.28,0.32,0.34,0.36,0.38,0.42,0.44,0.46,0.48], "labels": false, "tickSize": -3, "title": null}},
       "y2": {"field": "y2"}}},
    {"data": {"values": [{"x":1.255,"y":0.428,"t":"Experiment-SIR"},{"x":1.255,"y":0.2967,"t":"“Herd immunity”"},{"x":1.402,"y":0.2023,"t":"(d)"}]},
     "mark": {"type": "text", "align": "center", "baseline": "middle"},
     "encoding": {
       "x": {"field": "x", "type": "quantitative", "scale": {"domain": [0.493, 1.549], "nice": false, "zero": false},
             "axis": {"orient": "bottom", "values": [0.5,0.55,0.65,0.7,0.75,0.85,0.9,0.95,1.05,1.1,1.15,1.25,1.3,1.35,1.45,1.5], "labels": false, "tickSize": -3, "title": null}},
       "y": {"field": "y", "type": "quantitative", "scale": {"domain": [-0.1, 0.5], "nice": false, "zero": false},
             "axis": {"orient": "left", "values": [-0.08,-0.06,-0.04,-0.02,0.02,0.04,0.06,0.08,0.12,0.14,0.16,0.18,0.22,0.24,0.26,0.28,0.32,0.34,0.36,0.38,0.42,0.44,0.46,0.48], "labels": false, "tickSize": -3, "title": null}},
       "text": {"field": "t"}}},
    {"data": {"values": [{"x":0.5265,"y":0.46,"t":"Exponential"},{"x":0.5265,"y":0.4046,"t":"growth"}]},
     "mark": {"type": "text", "align": "left", "baseline": "middle"},
     "encoding": {
       "x": {"field": "x", "type": "quantitative", "scale": {"domain": [0.493, 1.549], "nice": false, "zero": false}, "axis": null},
       "y": {"field": "y", "type": "quantitative", "scale": {"domain": [-0.1, 0.5], "nice": false, "zero": false}, "axis": null},
       "text": {"field": "t"}}}
  ]
}
]
}
